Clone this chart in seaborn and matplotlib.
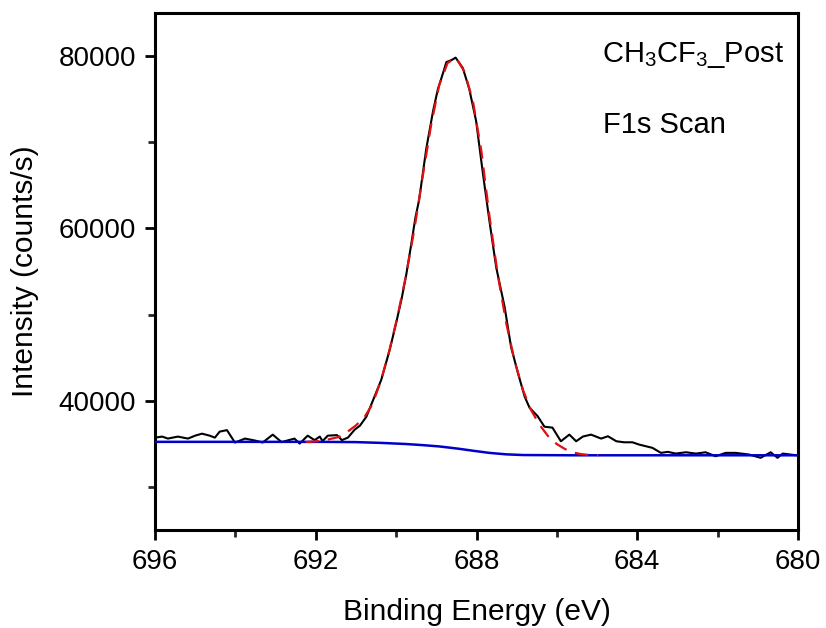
import numpy as np
import pandas as pd
import matplotlib
matplotlib.use("Agg")
import matplotlib.pyplot as plt
from matplotlib.ticker import MultipleLocator, FormatStrFormatter
import seaborn as sns

# ---- data ----
raw_energy = [696.00, 695.82, 695.68, 695.43, 695.18, 695.00, 694.83, 694.64, 694.51, 694.39,
              694.21, 694.01, 693.76, 693.51, 693.32, 693.07, 692.85, 692.53, 692.40, 692.20,
              692.03, 691.90, 691.83, 691.70, 691.47, 691.35, 691.20, 691.03, 690.90, 690.74,
              690.54, 690.37, 690.16, 690.00, 689.87, 689.75, 689.62, 689.52, 689.43, 689.25,
              689.08, 688.96, 688.84, 688.75, 688.62, 688.52, 688.34, 688.18, 688.01, 687.84,
              687.68, 687.51, 687.30, 687.14, 686.97, 686.80, 686.68, 686.48, 686.31, 686.11,
              685.90, 685.69, 685.52, 685.35, 685.15, 684.90, 684.73, 684.52, 684.33, 684.12,
              683.95, 683.62, 683.41, 683.24, 683.04, 682.79, 682.54, 682.30, 682.05, 681.80,
              681.55, 681.22, 680.93, 680.68, 680.51, 680.38, 680.06, 680.00]
raw_counts = [35720, 35840, 35610, 35840, 35610, 35950, 36180, 35950, 35720, 36420,
              36590, 35150, 35610, 35380, 35150, 36070, 35200, 35610, 35030, 35950,
              35430, 35840, 35320, 35950, 36010, 35430, 35720, 36650, 37110, 38150,
              40460, 42430, 45900, 49020, 51680, 54570, 58270, 61270, 63240, 69250,
              73640, 76180, 77920, 79300, 79540, 79820, 78610, 76180, 72480, 66360,
              60920, 55490, 50870, 46240, 43240, 40460, 39190, 38220, 36990, 36880,
              35300, 36070, 35300, 35850, 36070, 35610, 35880, 35300, 35180, 35180,
              34910, 34530, 33950, 34070, 33870, 34020, 33870, 34020, 33560, 33950,
              33950, 33760, 33380, 34020, 33380, 33870, 33680, 33700]

fit_energy = [692.25, 691.84, 691.42, 691.21, 691.01, 690.80, 690.59, 690.38, 690.17, 689.97,
              689.76, 689.55, 689.34, 689.13, 688.93, 688.72, 688.51, 688.30, 688.09, 687.88,
              687.68, 687.47, 687.26, 687.05, 686.84, 686.64, 686.43, 686.22, 686.01, 685.80,
              685.60, 685.39, 685.18, 684.97]
fit_counts = [35200, 35350, 35800, 36400, 37100, 38000, 39600, 42300, 45800, 49700,
              54400, 59800, 66000, 72000, 76600, 79200, 79800, 78200, 74800, 69000,
              61500, 54600, 49000, 44600, 41200, 38900, 37200, 35900, 35000, 34400,
              34000, 33800, 33700, 33680]

bg_energy = [696.0, 691.84, 691.01, 690.38, 689.76, 689.34, 688.93, 688.62, 688.41, 688.09,
             687.68, 687.26, 686.84, 685.60, 680.0]
bg_counts = [35230, 35230, 35200, 35110, 34980, 34850, 34700, 34530, 34410, 34200,
             33950, 33780, 33700, 33670, 33670]

x_ticks = [696, 692, 688, 684, 680]
y_ticks = [40000, 60000, 80000]
title_lines = ["CH$_3$CF$_3$_Post", "F1s Scan"]
x_label = "Binding Energy (eV)"
y_label = "Intensity (counts/s)"

# ---- style ----
sns.set_theme(style="ticks")
plt.rcParams["font.family"] = ["Liberation Sans", "DejaVu Sans"]
plt.rcParams["mathtext.fontset"] = "custom"
plt.rcParams["mathtext.rm"] = "Liberation Sans"
plt.rcParams["mathtext.it"] = "Liberation Sans"
plt.rcParams["mathtext.default"] = "regular"

TICK_FS = 20
LABEL_FS = 21.5
TEXT_FS = 21

fig = plt.figure(figsize=(8.26, 6.28), dpi=100)
ax = fig.add_axes([155 / 826, 1 - 530 / 628, (798 - 155) / 826, (530 - 13) / 628])

df_raw = pd.DataFrame({"energy": raw_energy, "counts": raw_counts})
df_fit = pd.DataFrame({"energy": fit_energy, "counts": fit_counts})
df_bg = pd.DataFrame({"energy": bg_energy, "counts": bg_counts})

sns.lineplot(data=df_raw, x="energy", y="counts", ax=ax, color="black",
             linewidth=1.5, sort=False, estimator=None, zorder=2)
sns.lineplot(data=df_bg, x="energy", y="counts", ax=ax, color="#0000cc",
             linewidth=1.8, sort=False, estimator=None, zorder=3)
sns.lineplot(data=df_fit, x="energy", y="counts", ax=ax, color="#e01010",
             linewidth=1.6, sort=False, estimator=None, zorder=4)
ax.lines[-1].set_dashes([6, 4])

ax.set_xlim(696, 680)
ax.set_ylim(25000, 85000)
ax.set_xticks(x_ticks)
ax.set_yticks(y_ticks)
ax.xaxis.set_minor_locator(MultipleLocator(2))
ax.yaxis.set_minor_locator(MultipleLocator(10000))
ax.yaxis.set_major_formatter(FormatStrFormatter("%d"))
ax.xaxis.set_major_formatter(FormatStrFormatter("%d"))

for s in ax.spines.values():
    s.set_linewidth(2.2)
    s.set_color("black")
    s.set_visible(True)

ax.tick_params(axis="both", which="major", direction="out", length=7.5, width=2,
               labelsize=TICK_FS, pad=6, colors="black")
ax.tick_params(axis="both", which="minor", direction="out", length=5, width=2)
ax.tick_params(top=False, right=False, which="both")

ax.set_xlabel(x_label, fontsize=LABEL_FS, labelpad=17, color="black")
ax.set_ylabel(y_label, fontsize=LABEL_FS, labelpad=14, color="black")

ax.text(0.695, 0.905, title_lines[0], transform=ax.transAxes, fontsize=TEXT_FS,
        va="baseline", ha="left", color="black")
ax.text(0.697, 0.768, title_lines[1], transform=ax.transAxes, fontsize=TEXT_FS,
        va="baseline", ha="left", color="black")

fig.savefig("out.png", dpi=100)
